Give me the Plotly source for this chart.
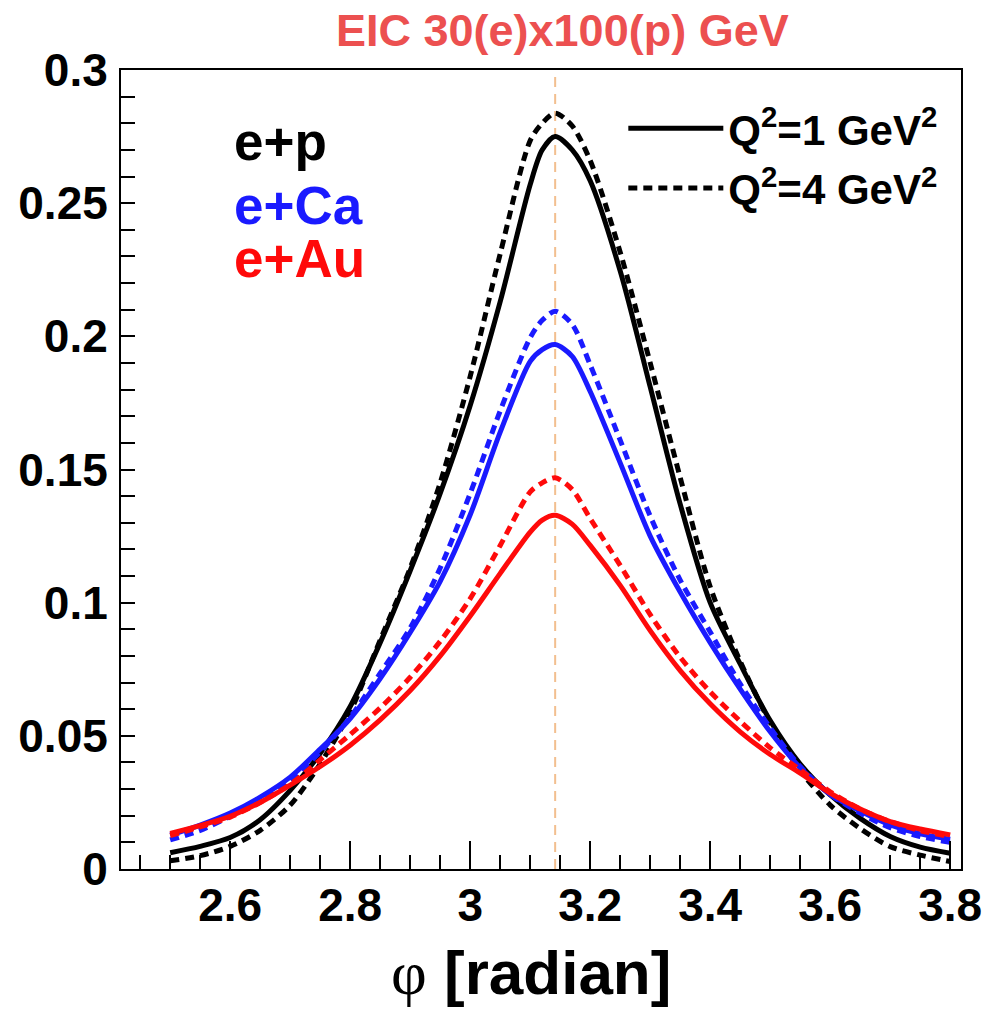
import plotly.graph_objects as go

# ---------------- data ----------------
phi = [2.5, 2.55, 2.6, 2.65, 2.7, 2.75, 2.8, 2.85, 2.9, 2.95, 3.0, 3.05, 3.1, 3.12, 3.1416,
       3.17, 3.2, 3.25, 3.3, 3.35, 3.4, 3.45, 3.5, 3.55, 3.6, 3.65, 3.7, 3.75, 3.8]

ep_q1 = [0.0061, 0.0085, 0.0118, 0.0185, 0.0295, 0.0434, 0.0610, 0.0850, 0.112, 0.141, 0.174,
         0.213, 0.257, 0.270, 0.275, 0.270, 0.2584, 0.2245, 0.181, 0.137, 0.100, 0.077, 0.0557,
         0.0394, 0.0278, 0.019, 0.0122, 0.0082, 0.0059]
ep_q4 = [0.0031, 0.0050, 0.0085, 0.0145, 0.0240, 0.0395, 0.059, 0.086, 0.113, 0.145, 0.185,
         0.231, 0.2735, 0.280, 0.2838, 0.279, 0.266, 0.2316, 0.190, 0.147, 0.106, 0.078, 0.055,
         0.037, 0.024, 0.0152, 0.0084, 0.0052, 0.0028]
ca_q1 = [0.0128, 0.0165, 0.0210, 0.0270, 0.0345, 0.0450, 0.0565, 0.0715, 0.0888, 0.108, 0.133,
         0.164, 0.1906, 0.195, 0.1969, 0.1925, 0.1793, 0.1525, 0.125, 0.104, 0.085, 0.0675,
         0.0515, 0.038, 0.028, 0.0218, 0.0166, 0.0132, 0.0112]
ca_q4 = [0.0109, 0.0145, 0.0198, 0.0258, 0.0335, 0.0440, 0.0570, 0.0735, 0.0905, 0.113, 0.141,
         0.172, 0.1995, 0.206, 0.2094, 0.2045, 0.1893, 0.161, 0.1325, 0.1085, 0.089, 0.0695,
         0.053, 0.0385, 0.028, 0.021, 0.0155, 0.0122, 0.0100]
au_q1 = [0.0134, 0.0163, 0.0198, 0.0250, 0.0315, 0.0385, 0.0465, 0.0560, 0.0670, 0.0800, 0.0950,
         0.111, 0.1265, 0.131, 0.1328, 0.1295, 0.1215, 0.1065, 0.0895, 0.0745, 0.0620, 0.0515,
         0.0430, 0.0360, 0.0285, 0.0225, 0.0178, 0.015, 0.0128]
au_q4 = [0.0125, 0.0158, 0.0195, 0.0250, 0.0318, 0.0410, 0.0505, 0.0605, 0.0720, 0.0855, 0.1015,
         0.1215, 0.1416, 0.145, 0.1469, 0.1425, 0.1316, 0.114, 0.0955, 0.0795, 0.0665, 0.0555,
         0.0455, 0.0372, 0.029, 0.0225, 0.0178, 0.0144, 0.0122]

peak_phi = 3.1416
systems = ["e+p", "e+Ca", "e+Au"]
q2_labels = ["Q<sup>2</sup>=1 GeV<sup>2</sup>", "Q<sup>2</sup>=4 GeV<sup>2</sup>"]
title_text = "EIC 30(e)x100(p) GeV"
x_title = "<span style='font-family:Liberation Serif;font-weight:normal'>φ</span> [radian]"

# ---------------- styles ----------------
FONT = "Liberation Sans, Arial, Helvetica, sans-serif"
BLACK, BLUE, RED = "#000000", "#1a1aff", "#ff0a0a"
DASH = "9px,6px"
LW = 5

fig = go.Figure()

series = [
    (ep_q1, BLACK, "solid"), (ep_q4, BLACK, DASH),
    (ca_q1, BLUE, "solid"), (ca_q4, BLUE, DASH),
    (au_q1, RED, "solid"), (au_q4, RED, DASH),
]
for y, col, dash in series:
    fig.add_trace(go.Scatter(
        x=phi, y=y, mode="lines", showlegend=False,
        line=dict(color=col, width=LW, dash=dash, shape="spline", smoothing=0.8)))

# legend entries (line samples only)
fig.add_trace(go.Scatter(x=[None], y=[None], mode="lines", name=q2_labels[0],
                         line=dict(color=BLACK, width=LW), legend="legend"))
fig.add_trace(go.Scatter(x=[None], y=[None], mode="lines", name=q2_labels[1],
                         line=dict(color=BLACK, width=LW, dash=DASH), legend="legend2"))

legend_common = dict(font=dict(family=FONT, size=42, color="black", weight="bold"),
                     bgcolor="rgba(0,0,0,0)", borderwidth=0, itemwidth=95,
                     xanchor="left", yanchor="middle", tracegroupgap=0)

fig.update_layout(
    template="none",
    width=987, height=1016,
    margin=dict(l=121, r=26, t=70, b=147, pad=0),
    paper_bgcolor="white", plot_bgcolor="white",
    showlegend=True,
    legend=dict(x=0.598, y=0.927, **legend_common),
    legend2=dict(x=0.598, y=0.852, **legend_common),
    xaxis=dict(
        range=[2.418, 3.818], autorange=False,
        showline=True, linecolor="black", linewidth=2, mirror=True,
        showgrid=False, zeroline=False,
        ticks="inside", tickmode="linear", tick0=2.6, dtick=0.2,
        ticklen=28, tickwidth=2, tickcolor="black",
        minor=dict(ticks="inside", ticklen=14, tickwidth=2, tickcolor="black",
                   tick0=2.45, dtick=0.05, showgrid=False),
        tickfont=dict(family=FONT, size=46, color="black", weight="bold"),
        ticklabelstandoff=-5,
        automargin=False,
    ),
    yaxis=dict(
        range=[0, 0.3], autorange=False,
        showline=True, linecolor="black", linewidth=2, mirror=True,
        showgrid=False, zeroline=False,
        ticks="inside", tickmode="linear", tick0=0, dtick=0.05,
        ticklen=14, tickwidth=2, tickcolor="black",
        minor=dict(ticks="inside", ticklen=14, tickwidth=2, tickcolor="black",
                   tick0=0, dtick=0.01, showgrid=False),
        tickfont=dict(family=FONT, size=46, color="black", weight="bold"),
        ticklabelstandoff=2,
        automargin=False,
    ),
)

# vertical dashed reference line at phi = pi
fig.add_shape(type="line", xref="x", yref="paper", x0=peak_phi, x1=peak_phi, y0=0, y1=1,
              line=dict(color="#f2bf8f", width=2, dash="10px,7px"), layer="below")

# title
fig.add_annotation(text=title_text, xref="paper", yref="paper", x=0.525, y=1.05,
                   xanchor="center", yanchor="middle", showarrow=False,
                   font=dict(family=FONT, size=45, color="#ec5050", weight="bold"))

# x-axis title
fig.add_annotation(text=x_title, xref="paper", yref="paper", x=0.488, y=-0.13,
                   xanchor="center", yanchor="middle", showarrow=False,
                   font=dict(family=FONT, size=62, color="black", weight="bold"))

# system labels
sys_colors = [BLACK, BLUE, RED]
sys_y = [0.910, 0.831, 0.764]
for txt, col, yy in zip(systems, sys_colors, sys_y):
    fig.add_annotation(text=txt, xref="paper", yref="paper", x=0.132, y=yy,
                       xanchor="left", yanchor="middle", showarrow=False,
                       font=dict(family=FONT, size=53, color=col, weight="bold"))

fig.write_html("out.html", config={"displayModeBar": False},
               post_script="document.body.style.margin='0';")
